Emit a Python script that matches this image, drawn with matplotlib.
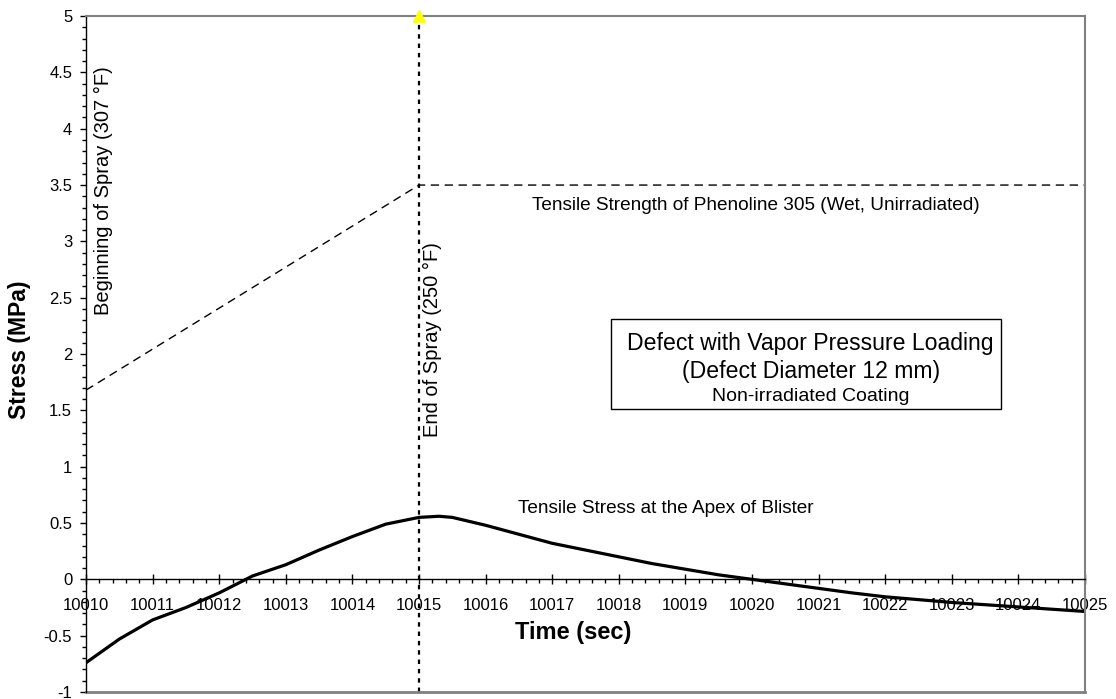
import numpy as np
import matplotlib
matplotlib.use("Agg")
import matplotlib.pyplot as plt
from matplotlib.ticker import MultipleLocator
from matplotlib.patches import Rectangle

plt.rcParams['font.family'] = ['Liberation Sans', 'DejaVu Sans']

# tensile stress at apex of blister (MPa) vs time (sec)
time_s = [10010, 10010.5, 10011, 10011.5, 10012, 10012.5, 10013, 10013.5, 10014,
          10014.5, 10015, 10015.3, 10015.5, 10016, 10016.5, 10017, 10017.5, 10018,
          10018.5, 10019, 10019.5, 10020, 10020.5, 10021, 10021.5, 10022, 10022.5,
          10023, 10023.5, 10024, 10024.5, 10025]
stress = [-0.74, -0.53, -0.36, -0.25, -0.12, 0.03, 0.13, 0.26, 0.38,
          0.49, 0.55, 0.56, 0.55, 0.48, 0.40, 0.32, 0.26, 0.20,
          0.14, 0.09, 0.04, 0.00, -0.04, -0.08, -0.12, -0.155, -0.18,
          -0.205, -0.225, -0.245, -0.265, -0.285]

# tensile strength of coating
strength_t = [10010, 10015, 10025]
strength = [1.68, 3.5, 3.5]

spray_end = 10015

fig = plt.figure(figsize=(11.16, 6.99), dpi=100)
ax = fig.add_axes([0.0771, 0.010, 0.8951, 0.967])

ax.plot(time_s, stress, color='black', lw=2.3, solid_capstyle='butt')
ax.plot(strength_t, strength, color='black', lw=1.0, dashes=(6, 4))
ax.axvline(spray_end, color='black', lw=1.6, dashes=(2, 2.2))
ax.plot([spray_end], [5], marker='^', color='#ffff00', ms=9, clip_on=False, zorder=5)

ax.set_xlim(10010, 10025)
ax.set_ylim(-1, 5)
ax.xaxis.set_major_locator(MultipleLocator(1))
ax.xaxis.set_minor_locator(MultipleLocator(0.2))
ax.yaxis.set_major_locator(MultipleLocator(0.5))
ax.yaxis.set_minor_locator(MultipleLocator(0.1))
ax.xaxis.set_major_formatter(matplotlib.ticker.FuncFormatter(lambda v, p: f"{v:.0f}"))
ax.yaxis.set_major_formatter(matplotlib.ticker.FuncFormatter(lambda v, p: f"{v:g}"))

ax.spines['bottom'].set_position(('data', 0))
ax.spines['bottom'].set_linewidth(1.0)
ax.spines['left'].set_linewidth(1.0)
for s in ['top', 'right']:
    ax.spines[s].set_color('#808080')
    ax.spines[s].set_linewidth(1.5)
ax.axhline(-1, color='#808080', lw=2.0, clip_on=False)

ax.tick_params(axis='x', which='major', direction='inout', length=7, width=1, pad=10,
               labelsize=12, colors='black')
ax.tick_params(axis='x', which='minor', direction='out', length=3, width=1)
ax.tick_params(axis='y', which='major', direction='out', length=4, width=1, pad=6,
               labelsize=12)
ax.tick_params(axis='y', which='minor', direction='out', length=3, width=1)

ax.set_ylabel('Stress (MPa)', fontsize=16.5, fontweight='bold')
ax.yaxis.set_label_coords(-0.055, 0.506)
ax.text(10017.31, -0.47, 'Time (sec)', fontsize=17, fontweight='bold',
        ha='center', va='center')

ax.text(10010.26, 3.45, 'Beginning of Spray (307 °F)', rotation=90, fontsize=14.5,
        ha='center', va='center')
ax.text(10015.2, 2.13, 'End of Spray (250 °F)', rotation=90, fontsize=14.5,
        ha='center', va='center')
ax.text(10020.05, 3.32, 'Tensile Strength of Phenoline 305 (Wet, Unirradiated)',
        fontsize=13.7, ha='center', va='center')
ax.text(10018.7, 0.63, 'Tensile Stress at the Apex of Blister',
        fontsize=13.7, ha='center', va='center')

ax.add_patch(Rectangle((10017.89, 1.51), 5.85, 0.80, fill=False, ec='black', lw=1.0))
ax.text(10020.88, 2.095, 'Defect with Vapor Pressure Loading', fontsize=16.6,
        ha='center', va='center')
ax.text(10020.88, 1.845, '(Defect Diameter 12 mm)', fontsize=16.6,
        ha='center', va='center')
ax.text(10020.88, 1.625, 'Non-irradiated Coating', fontsize=14,
        ha='center', va='center')

fig.savefig('out.png', dpi=100)
